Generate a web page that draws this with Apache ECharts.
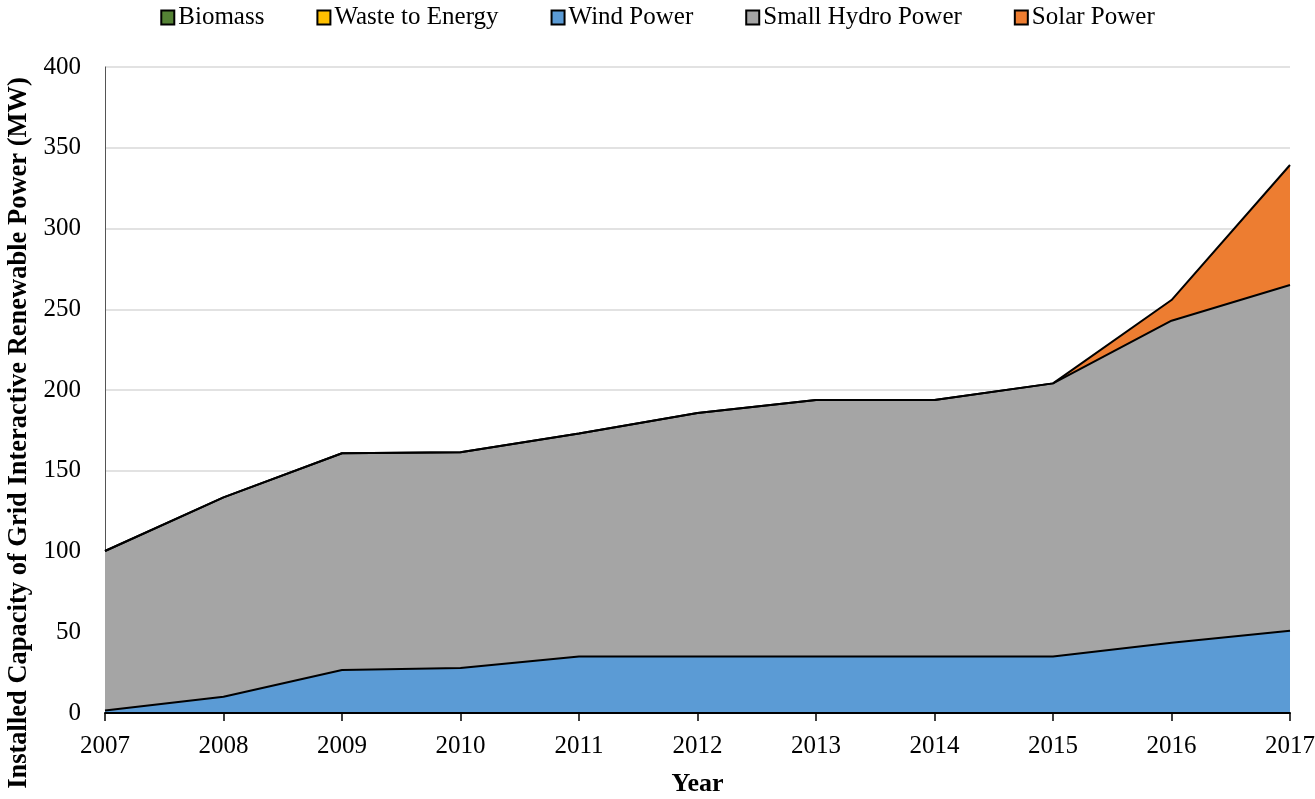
<!DOCTYPE html>
<html>
<head>
<meta charset="utf-8">
<script src="https://cdn.jsdelivr.net/npm/echarts@6/dist/echarts.min.js"></script>
<style>
    html, body { margin: 0; padding: 0; background: #fff; }
    #chart { width: 1315px; height: 799px; }
</style>
</head>
<body>
<div id="chart"></div>
<script>
// data (MW)
var years = ['2007', '2008', '2009', '2010', '2011', '2012', '2013', '2014', '2015', '2016', '2017'];
var biomass = [0, 0, 0, 0, 0, 0, 0, 0, 0, 0, 0];
var wasteToEnergy = [0, 0, 0, 0, 0, 0, 0, 0, 0, 0, 0];
var windPower = [1.5, 10.1, 26.6, 27.8, 35, 35, 35, 35, 35, 43.5, 51];
var smallHydro = [98.8, 123.4, 134.2, 133.6, 138, 150.7, 158.8, 158.8, 169.1, 199.4, 214];
var solarPower = [0, 0, 0, 0, 0, 0, 0, 0, 0, 12.8, 74.3];
var yTicks = { min: 0, max: 400, interval: 50 };

var font = '"Liberation Serif", "Times New Roman", serif';

function areaSeries(name, data, color) {
    return {
        name: name,
        type: 'line',
        stack: 'total',
        data: data,
        symbol: 'none',
        lineStyle: { color: '#000', width: 2 },
        areaStyle: { color: color, opacity: 1 },
        itemStyle: { color: color, borderColor: '#000', borderWidth: 1 }
    };
}

chart = echarts.init(document.getElementById('chart'));

option = {
    animation: false,
    textStyle: { fontFamily: font },
    legend: {
        top: 0,
        left: 'center',
        itemWidth: 13,
        itemHeight: 14,
        itemGap: 52,
        icon: 'rect',
        textStyle: { fontFamily: font, fontSize: 25, color: '#000', padding: [0, 0, 0, -1] },
        data: ['Biomass', 'Waste to Energy', 'Wind Power', 'Small Hydro Power', 'Solar Power']
    },
    grid: {
        left: 105,
        right: 25,
        top: 67,
        bottom: 86,
        outerBoundsMode: 'none'
    },
    xAxis: {
        type: 'category',
        boundaryGap: false,
        data: years,
        name: 'Year',
        nameLocation: 'middle',
        nameGap: 58,
        nameTextStyle: { fontFamily: font, fontSize: 26, fontWeight: 'bold', color: '#000' },
        axisLine: { lineStyle: { color: '#000', width: 2 } },
        axisTick: { show: true, length: 8, lineStyle: { color: '#000', width: 1.5 } },
        axisLabel: { fontFamily: font, fontSize: 25, color: '#000', margin: 21 },
        splitLine: { show: false }
    },
    yAxis: {
        type: 'value',
        min: yTicks.min,
        max: yTicks.max,
        interval: yTicks.interval,
        name: 'Installed Capacity of Grid Interactive Renewable Power (MW)',
        nameLocation: 'middle',
        nameGap: 72,
        nameTextStyle: { fontFamily: font, fontSize: 26.5, fontWeight: 'bold', color: '#000', padding: [0, 86, 0, 0] },
        axisLine: { show: true, lineStyle: { color: '#555', width: 1 } },
        axisTick: { show: false },
        axisLabel: { fontFamily: font, fontSize: 25, color: '#000', margin: 24 },
        splitLine: { show: true, lineStyle: { color: '#d9d9d9', width: 1.5 } }
    },
    series: [
        areaSeries('Biomass', biomass, '#548235'),
        areaSeries('Waste to Energy', wasteToEnergy, '#FFC000'),
        areaSeries('Wind Power', windPower, '#5B9BD5'),
        areaSeries('Small Hydro Power', smallHydro, '#A5A5A5'),
        areaSeries('Solar Power', solarPower, '#ED7D31')
    ]
};

chart.setOption(option);
</script>
</body>
</html>
